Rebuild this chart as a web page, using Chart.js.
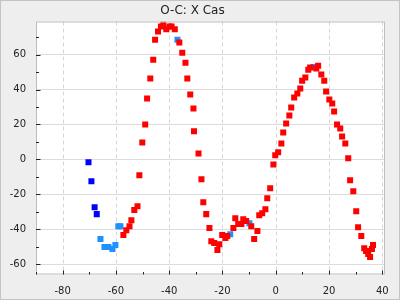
<!DOCTYPE html>
<html lang="en">
<head>
    <meta charset="UTF-8">
    <title>O-C: X Cas</title>
    <script src="https://cdn.jsdelivr.net/npm/chart.js"></script>
    <style>
        body { margin: 0; background: #eeeeee; }
        .wrap { width: 400px; height: 300px; }
    </style>
</head>
<body>
    <div class="wrap"><canvas id="ocChart" width="400" height="300"></canvas></div>

    <script>
        // O-C values (cycle, days)
        const redX = [-50.1, -51.2, -51.9, -53.1, -54.2, -54.9, -56.1, -57.2, -49.0, -48.3, -47.1, -46.0,
            -45.3, -44.2, -43.1, -42.2, -41.1, -39.9, -39.1, -37.9, -36.2, -35.1, -33.9, -33.2, -32.1,
            -30.9, -30.7, -29.0, -27.9, -27.2, -26.1, -24.9, -24.2, -23.1, -21.2, -21.9, -20.1, -18.9,
            -18.2, -15.9, -15.2, -14.1, -12.9, -12.2, -11.1, -9.2, -6.9, -8.1, -6.2, -5.1, -3.9, -3.2,
            -2.1, -0.9, -0.2, 0.9, 2.1, 2.8, 3.9, 5.1, 5.8, 6.9, 8.1, 9.2, 9.9, 11.1, 12.2, 12.9, 15.2,
            15.9, 17.1, 18.2, 18.9, 20.1, 21.2, 21.9, 23.0, 24.2, 24.9, 26.1, 27.2, 27.9, 29.1, 30.2,
            30.9, 32.1, 33.2, 33.9, 34.7, 35.4, 36.1, 36.5];
        const redY = [9.7, -9.1, -26.9, -29.1, -34.9, -38.3, -40.6, -43.4, 20.0, 34.9, 46.3, 57.1,
            68.6, 73.3, 76.2, 77.3, 74.5, 76.2, 76.2, 74.5, 67.0, 61.1, 55.4, 46.3, 37.1,
            29.1, 16.1, 3.4, -11.4, -24.6, -31.4, -39.4, -46.9, -48.0, -48.6, -52.0, -43.4, -45.1,
            -44.0, -39.4, -33.7, -37.1, -37.1, -34.3, -35.4, -38.3, -41.1, -45.7, -32.0, -30.9, -28.6, -22.3,
            -16.6, -2.9, 2.3, 4.0, 9.1, 15.4, 20.6, 25.1, 29.7, 35.4, 37.7, 40.6, 45.1, 46.9, 51.4, 52.6, 52.0,
            53.7, 48.6, 45.1, 38.9, 34.3, 32.0, 27.4, 20.0, 17.7, 13.1, 9.1, 0.6, -12.0, -18.3, -29.7,
            -38.9, -44.0, -50.9, -52.6, -54.3, -56.0, -51.4, -49.1];

        const blueX = [-70.3, -69.2, -68.0, -67.2];
        const blueY = [-1.7, -12.6, -27.4, -31.4];

        const lightX = [-59.1, -58.3, -65.8, -64.3, -63.6, -62.8, -61.3, -60.2, -36.9, -17.1, -9.9, 14.1];
        const lightY = [-38.3, -38.3, -45.7, -50.3, -50.3, -50.3, -51.4, -49.1, 68.6, -42.9, -36.6, 52.9];

        const xTicks = [-80, -60, -40, -20, 0, 20, 40];
        const yTicks = [-60, -40, -20, 0, 20, 40, 60];

        const pairs = (xs, ys) => xs.map((x, i) => ({ x: x, y: ys[i] }));

        const pointSet = (data, color) => ({
            data: data,
            backgroundColor: color,
            borderWidth: 0,
            pointStyle: 'rect',
            pointRadius: 4.25,
            pointHoverRadius: 4.25
        });

        // white plot area, dashed vertical grid, frames and inward tick marks
        const frame = {
            id: 'frame',
            beforeDatasetsDraw(chart) {
                const { ctx, chartArea: a } = chart;
                const xs = chart.scales.x;
                ctx.save();
                ctx.strokeStyle = '#d6d6d6';
                ctx.lineWidth = 1;
                ctx.setLineDash([4, 3]);
                ctx.beginPath();
                xTicks.forEach(v => {
                    const px = Math.round(xs.getPixelForValue(v)) + 0.5;
                    ctx.moveTo(px, a.top);
                    ctx.lineTo(px, a.bottom);
                });
                ctx.stroke();
                ctx.restore();
            },
            beforeDraw(chart) {
                const { ctx, chartArea: a } = chart;
                ctx.save();
                ctx.fillStyle = '#ffffff';
                ctx.fillRect(a.left, a.top, a.right - a.left, a.bottom - a.top);
                ctx.restore();
            },
            afterDraw(chart) {
                const { ctx, chartArea: a } = chart;
                const xs = chart.scales.x, ys = chart.scales.y;
                ctx.save();
                ctx.strokeStyle = '#bdbdbd';
                ctx.lineWidth = 1;
                ctx.strokeRect(a.left + 0.5, a.top + 0.5, a.right - a.left - 1, a.bottom - a.top - 1);
                ctx.strokeStyle = '#c4c4c4';
                ctx.strokeRect(0.5, 0.5, chart.width - 1, chart.height - 1);

                ctx.strokeStyle = '#222222';
                ctx.beginPath();
                for (let v = Math.ceil(xs.min / 10) * 10; v <= xs.max; v += 10) {
                    const px = Math.round(xs.getPixelForValue(v)) + 0.5;
                    const len = v % 20 === 0 ? 4 : 2.5;
                    ctx.moveTo(px, a.bottom);
                    ctx.lineTo(px, a.bottom - len);
                }
                for (let v = Math.ceil(ys.min / 10) * 10; v <= ys.max; v += 10) {
                    const py = Math.round(ys.getPixelForValue(v)) + 0.5;
                    const len = v % 20 === 0 ? 4.5 : 3;
                    ctx.moveTo(a.left, py);
                    ctx.lineTo(a.left + len, py);
                }
                ctx.stroke();
                ctx.restore();
            }
        };

        const tickFont = { family: 'DejaVu Sans', size: 10 };

        new Chart(document.getElementById('ocChart'), {
            type: 'scatter',
            data: {
                datasets: [
                    pointSet(pairs(redX, redY), '#ff0000'),
                    pointSet(pairs(blueX, blueY), '#0000ff'),
                    pointSet(pairs(lightX, lightY), '#1e90ff')
                ]
            },
            options: {
                responsive: false,
                animation: false,
                layout: { padding: { left: 0, right: 15, top: 0, bottom: 0 } },
                plugins: {
                    legend: { display: false },
                    tooltip: { enabled: false },
                    title: {
                        display: true,
                        text: 'O-C: X Cas',
                        color: '#222222',
                        font: { family: 'DejaVu Sans', size: 12, weight: 'normal' },
                        padding: { top: 4, bottom: 3.1 }
                    }
                },
                scales: {
                    x: {
                        type: 'linear',
                        min: -90,
                        max: 41,
                        afterBuildTicks: s => { s.ticks = xTicks.map(v => ({ value: v })); },
                        afterFit: s => { s.height = 25.5; },
                        ticks: { color: '#222222', font: tickFont, padding: 3, maxRotation: 0 },
                        grid: { display: false },
                        border: { display: false }
                    },
                    y: {
                        type: 'linear',
                        min: -66,
                        max: 79,
                        afterBuildTicks: s => { s.ticks = yTicks.map(v => ({ value: v })); },
                        afterFit: s => { s.width = 36; },
                        ticks: { color: '#222222', font: tickFont, padding: 10 },
                        grid: { color: '#dcdcdc', drawTicks: false },
                        border: { display: false }
                    }
                }
            },
            plugins: [frame]
        });
    </script>
</body>
</html>
